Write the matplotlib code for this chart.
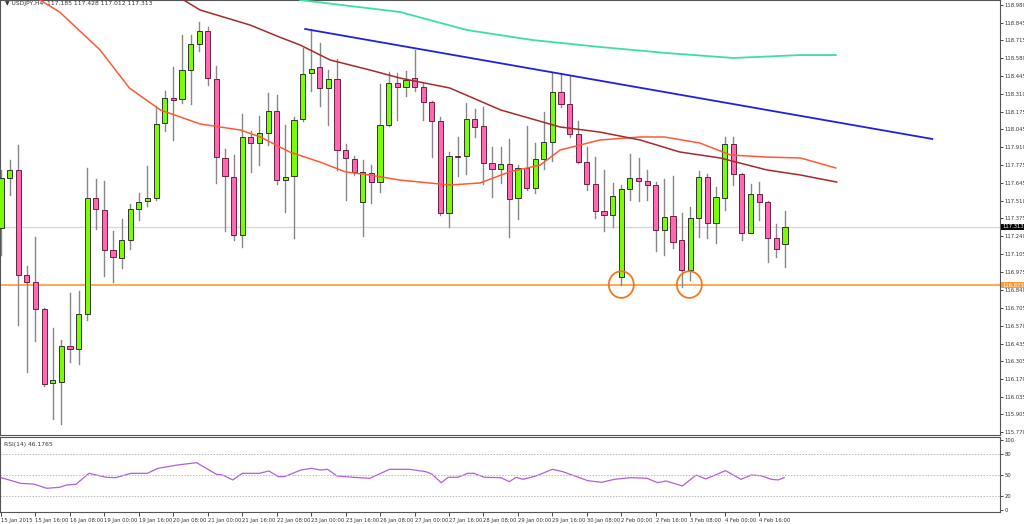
import matplotlib
matplotlib.use("Agg")
import matplotlib.pyplot as plt
from matplotlib.patches import Rectangle, Ellipse

opens = [117.303,117.679,117.740,116.950,116.897,116.694,116.138,116.145,116.416,116.394,
 116.657,117.529,117.439,117.138,117.078,117.213,117.446,117.506,117.529,118.093,
 118.281,118.273,118.492,118.687,118.785,118.424,117.830,117.687,117.251,117.988,
 117.943,118.018,118.183,117.664,117.695,118.123,118.469,118.514,118.356,118.424,
 117.890,117.822,117.499,117.717,117.649,118.078,118.394,118.364,118.431,118.364,
 118.251,118.108,117.416,117.845,117.845,118.123,118.071,117.792,117.747,117.785,
 117.529,117.755,117.604,117.822,117.950,118.326,118.236,118.010,117.800,117.634,
 117.431,117.401,116.935,117.597,117.679,117.657,117.627,117.288,117.394,117.213,
 116.988,117.379,117.687,117.341,117.529,117.935,117.710,117.266,117.559,117.499,
 117.228,117.185]
highs = [117.740,117.815,117.928,117.018,117.236,116.702,116.552,116.461,116.815,116.830,
 117.755,117.672,117.657,117.281,117.371,117.484,117.567,117.770,118.221,118.334,
 118.514,118.755,118.755,118.853,118.815,118.522,117.898,117.852,118.161,118.033,
 118.146,118.319,118.304,118.078,118.138,118.657,118.800,118.695,118.492,118.574,
 117.935,117.845,117.815,117.777,118.386,118.477,118.469,118.484,118.642,118.394,
 118.258,118.138,117.875,117.988,118.243,118.198,118.213,117.913,117.913,117.973,
 117.777,118.071,117.943,118.176,118.469,118.469,118.447,118.108,117.913,117.837,
 117.740,117.642,117.627,117.860,117.830,117.740,117.649,117.672,117.695,117.416,
 117.461,117.732,117.710,117.612,117.988,117.988,117.717,117.634,117.649,117.506,
 117.334,117.428]
lows = [117.100,117.552,116.574,116.221,116.454,116.115,115.867,115.830,116.296,116.281,
 116.612,117.296,116.943,116.897,117.003,117.146,117.364,117.469,117.514,118.033,
 117.965,118.243,118.236,118.635,118.379,117.642,117.281,117.213,117.161,117.725,
 117.777,117.928,117.634,117.424,117.228,118.108,118.334,118.221,118.078,117.740,
 117.514,117.702,117.243,117.491,117.574,118.071,118.116,118.296,118.334,118.116,
 117.837,117.401,117.311,117.695,117.710,117.988,117.634,117.537,117.642,117.236,
 117.371,117.589,117.567,117.747,117.807,118.213,117.988,117.792,117.589,117.379,
 117.281,117.311,116.875,117.514,117.506,117.514,117.131,117.100,117.153,116.860,
 116.912,117.236,117.228,117.191,117.439,117.627,117.213,117.266,117.364,117.048,
 117.085,117.012]
closes = [117.679,117.740,116.950,116.897,116.694,116.130,116.160,116.416,116.394,116.657,
 117.529,117.446,117.138,117.085,117.213,117.446,117.499,117.529,118.086,118.281,
 118.266,118.492,118.687,118.785,118.431,117.837,117.695,117.251,117.988,117.943,
 118.018,118.183,117.664,117.687,118.116,118.462,118.499,118.356,118.424,117.890,
 117.830,117.725,117.725,117.649,118.078,118.394,118.364,118.416,118.364,118.251,
 118.108,117.416,117.845,117.837,118.123,118.063,117.792,117.747,117.785,117.522,
 117.755,117.604,117.822,117.950,118.326,118.236,118.010,117.800,117.634,117.431,
 117.401,117.544,117.597,117.679,117.657,117.627,117.288,117.386,117.198,116.988,
 117.379,117.687,117.341,117.537,117.935,117.710,117.266,117.559,117.499,117.228,
 117.146,117.313]

ma_fast_idx = [4.5,6.8,11.5,14.9,18.5,23.1,27.8,30.1,33.5,37,40,42.8,46.3,52.1,55.6,59,62.6,64.9,69.5,74.2,77,81.1,84.7,88.9,92.8,96.9]
ma_fast = [119.018,118.928,118.642,118.356,118.191,118.086,118.040,117.988,117.875,117.800,117.725,117.702,117.664,117.627,117.642,117.725,117.777,117.890,117.965,117.988,117.988,117.943,117.852,117.837,117.830,117.755]
ma_mid_idx = [21.2,23.1,28.9,32.3,34.7,38.2,42.8,46.3,52.1,58,64.9,69.5,74.2,78.8,83.5,88.9,92.8,97]
ma_mid = [119.018,118.943,118.830,118.740,118.680,118.567,118.492,118.431,118.356,118.191,118.063,118.025,117.965,117.875,117.830,117.740,117.702,117.649]
ma_slow_idx = [34.7,46.3,54.1,61.7,69.5,77.3,85,92.8,96.9]
ma_slow = [119.018,118.928,118.792,118.717,118.665,118.619,118.582,118.604,118.604]
trend_idx = [35.3,108.1]
trend_price = [118.800,117.973]
support_level = 116.873

rsi_idx = [0,2.3,3.8,5.3,6.8,7.6,8.7,10.2,12.2,13.3,15.1,17,18.2,20.5,22.7,25,25.7,26.9,28,30,31.1,32.2,32.9,34.8,36,37.1,37.9,39,40.9,42.8,45.1,47.4,49.3,50,51.1,51.9,53,54.2,54.9,56.1,58,59,59.8,60.6,62.1,64,65.2,68.1,69.7,71.2,73.1,75,76.2,77.2,79.1,80.7,81.8,84.1,85.9,87.1,88.2,89.4,90.2,90.9]
rsi = [46.2,38,37,31,32.4,35.7,36.7,52.4,46.7,46.2,52.4,52.4,59.5,64.3,67.6,51,50,42.9,52.4,52.4,55.7,47.6,47.6,57.1,59.5,57.1,58.1,48.6,46.7,45.2,58.1,58.1,54.8,51.4,39,46.7,46.7,52.4,52.4,46.7,46.2,40.5,46.7,43.8,48.6,58.1,54.8,41.9,39.5,43.8,46.2,45.2,39,41.4,34.3,50,44.3,56.2,43.8,50,49,43.8,42.9,46.2]

price_ticks = [118.980,118.845,118.715,118.580,118.445,118.310,118.175,118.045,117.910,117.775,117.645,117.510,117.375,117.240,117.105,116.975,116.840,116.705,116.570,116.435,116.305,116.170,116.035,115.905,115.770]
date_labels = ["15 Jan 2015","15 Jan 16:00","16 Jan 08:00","19 Jan 00:00","19 Jan 16:00","20 Jan 08:00",
 "21 Jan 00:00","21 Jan 16:00","22 Jan 08:00","23 Jan 00:00","23 Jan 16:00","26 Jan 08:00","27 Jan 00:00",
 "27 Jan 16:00","28 Jan 08:00","29 Jan 00:00","29 Jan 16:00","30 Jan 08:00","2 Feb 00:00","2 Feb 16:00",
 "3 Feb 08:00","4 Feb 00:00","4 Feb 16:00"]
circle_idx = [72.0, 79.9]

W, H = 1024, 524
fig = plt.figure(figsize=(W/100, H/100), dpi=100)
fig.patch.set_facecolor("white")
ax = fig.add_axes([0, 1-435/H, 1000/W, 435/H])
ax2 = fig.add_axes([0, 1-512/H, 1000/W, 75/H])
xl = (-0.12, 115.96)
for a in (ax, ax2):
    a.set_xlim(*xl)
    for s in a.spines.values():
        s.set_color("#555555"); s.set_linewidth(0.8)
ax.set_ylim(115.747, 119.018)
ax2.set_ylim(-2.9, 104.3)

bw = 0.6
for i, (o, h, l, c) in enumerate(zip(opens, highs, lows, closes)):
    ax.plot([i, i], [l, h], color="#888888", lw=1, zorder=2)
    up = c >= o
    ax.add_patch(Rectangle((i-bw/2, min(o, c)), bw, max(abs(c-o), 0.004),
                           facecolor="#7CFC00" if up else "#FF69B4",
                           edgecolor="#333333" if up else "#6b2140", lw=0.7, zorder=3))

ax.plot(ma_fast_idx, ma_fast, color="#FF5A36", lw=1.1, zorder=4)
ax.plot(ma_mid_idx, ma_mid, color="#A52A2A", lw=1.1, zorder=4)
ax.plot(ma_slow_idx, ma_slow, color="#3CE0A0", lw=1.3, zorder=4)
ax.plot(trend_idx, trend_price, color="#2020E0", lw=1.3, zorder=4)
ax.axhline(support_level, color="#FF9933", lw=1.2, zorder=1)
ax.axhline(closes[-1], color="#D8D8D8", lw=1, zorder=1)
for cx in circle_idx:
    ax.add_patch(Ellipse((cx, support_level+0.005), 2.9, 0.2, fill=False, edgecolor="#F07820", lw=1.3, zorder=5))

ax.yaxis.tick_right()
ax.set_yticks(price_ticks)
ax.set_yticklabels([f"{p:.3f}" for p in price_ticks], fontsize=3.8, color="#333333")
ax.tick_params(axis="y", length=2, pad=1, width=0.5)
ax.set_xticks([])
ax.text(0.005, 0.997, "\u25BC USDJPY,H4  117.185 117.428 117.012 117.313", transform=ax.transAxes,
        fontsize=4.3, va="top", ha="left", color="#333333")
ax.text(1.002, closes[-1], "117.313", transform=ax.get_yaxis_transform(), fontsize=3.8, va="center",
        ha="left", color="white", bbox=dict(boxstyle="square,pad=0.12", fc="black", ec="none"), clip_on=False)
ax.text(1.002, support_level, "116.873", transform=ax.get_yaxis_transform(), fontsize=3.8, va="center",
        ha="left", color="white", bbox=dict(boxstyle="square,pad=0.12", fc="#FF9933", ec="none"), clip_on=False)

ax2.plot(rsi_idx, rsi, color="#B060D8", lw=0.9)
for lev in (80, 50, 20):
    ax2.axhline(lev, color="#BBBBBB", lw=0.7, ls=(0, (1.5, 1.5)))
ax2.yaxis.tick_right()
ax2.set_yticks([100, 80, 50, 20, 0])
ax2.set_yticklabels(["100", "80", "50", "20", "0"], fontsize=3.8, color="#333333")
ax2.tick_params(axis="y", length=2, pad=1, width=0.5)
ax2.text(0.004, 0.93, "RSI(14) 46.1765", transform=ax2.transAxes, fontsize=4.3, va="top", ha="left", color="#333333")
ax2.set_xticks([4*k for k in range(len(date_labels))])
ax2.set_xticklabels(date_labels, fontsize=3.8, color="#333333", ha="left")
ax2.tick_params(axis="x", length=3, pad=1, width=0.5)

fig.savefig("out.png", dpi=100)
